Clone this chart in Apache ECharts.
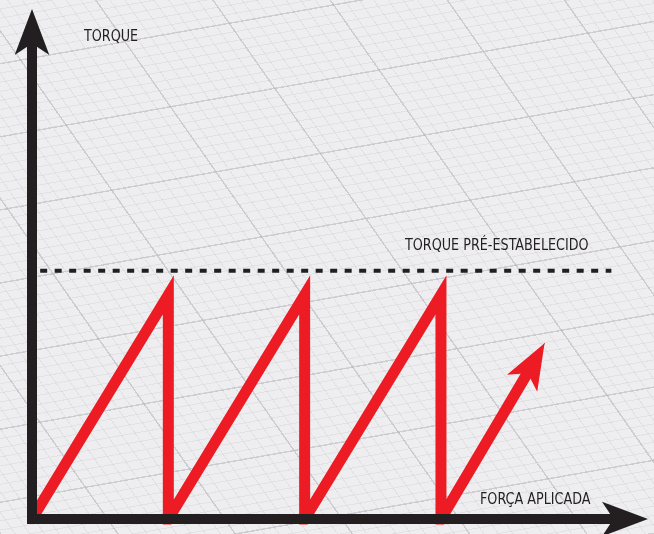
<!DOCTYPE html>
<html>
<head>
<meta charset="utf-8">
<script src="https://cdn.jsdelivr.net/npm/echarts@6/dist/echarts.min.js"></script>
<style>
  html, body { margin: 0; padding: 0; }
  #grafica {
    width: 654px;
    height: 534px;
    background-color: #eeeef0;
    background-image:
      repeating-linear-gradient(55deg, rgba(170,170,178,0.4) 0 1.5px, transparent 1.5px 96px),
      repeating-linear-gradient(-10deg, rgba(170,170,178,0.4) 0 1.5px, transparent 1.5px 72px),
      repeating-linear-gradient(55deg, rgba(190,190,198,0.25) 0 1px, transparent 1px 12px),
      repeating-linear-gradient(-10deg, rgba(190,190,198,0.25) 0 1px, transparent 1px 9px);
  }
</style>
</head>
<body>
<div id="grafica"></div>
<script>
// Datos: forca aplicada (x) e torque (y), dente de serra + ultimo trecho
const forca = [0, 10, 10, 20, 20, 30, 30, 36.8];
const torque = [0, 46, 0, 46, 0, 46, 0, 32.1];
// ponta da seta do ultimo trecho
const forcaPonta = 37.6;
const torquePonta = 36.1;
// torque pre-estabelecido (linha tracejada)
const torquePreset = 51;
const forcaPresetInicio = 0.6;
const forcaPresetFim = 42.5;
// limites dos eixos
const forcaMax = 43.5;
const torqueMax = 100;

const myChart = echarts.init(document.getElementById('grafica'));

const corEixo = '#231f20';
const corLinha = '#ed1c24';
const fonte = "16.5px 'Liberation Sans Narrow', 'DejaVu Sans Condensed', sans-serif";

// eixo com seta no final
function eixo(max) {
    return {
        type: 'value',
        min: 0,
        max: max,
        z: 5,
        axisLine: {
            show: true,
            symbol: ['none', 'arrow'],
            symbolSize: [26, 46],
            symbolOffset: [0, 23],
            lineStyle: { color: corEixo, width: 10, cap: 'square' }
        },
        axisTick: { show: false },
        axisLabel: { show: false },
        splitLine: { show: false }
    };
}

option = {
    animation: false,
    grid: {
        left: 32,
        right: 29,
        top: 32,
        bottom: 15
    },
    xAxis: eixo(forcaMax),
    yAxis: eixo(torqueMax),
    series: [
        {
            // linha tracejada do torque pre-estabelecido
            name: 'preset',
            type: 'line',
            showSymbol: false,
            silent: true,
            lineStyle: { color: corEixo, width: 4, type: [7, 7.5] },
            data: [[forcaPresetInicio, torquePreset], [forcaPresetFim, torquePreset]]
        },
        {
            name: 'torque',
            type: 'line',
            showSymbol: false,
            silent: true,
            color: corLinha,
            lineStyle: { color: corLinha, width: 11, join: 'miter', miterLimit: 20 },
            data: forca.map((f, i) => [f, torque[i]]),
            // cabeca da seta
            markLine: {
                silent: true,
                animation: false,
                label: { show: false },
                lineStyle: { color: corLinha, width: 1, type: 'solid' },
                data: [[
                    { coord: [forca[forca.length - 1], torque[torque.length - 1]], symbol: 'none' },
                    { coord: [forcaPonta, torquePonta], symbol: 'arrow', symbolSize: [26, 46] }
                ]]
            }
        }
    ],
    graphic: [
        {
            type: 'text', x: 84, y: 37, z: 10, scaleX: 0.86,
            style: { text: 'TORQUE', fill: corEixo, font: fonte, textVerticalAlign: 'middle' }
        },
        {
            type: 'text', x: 405, y: 246, z: 10, scaleX: 0.86,
            style: { text: 'TORQUE PRÉ-ESTABELECIDO', fill: corEixo, font: fonte, textVerticalAlign: 'middle' }
        },
        {
            type: 'text', x: 480, y: 500, z: 10, scaleX: 0.86,
            style: { text: 'FORÇA APLICADA', fill: corEixo, font: fonte, textVerticalAlign: 'middle' }
        }
    ]
};

myChart.setOption(option);
</script>
</body>
</html>
